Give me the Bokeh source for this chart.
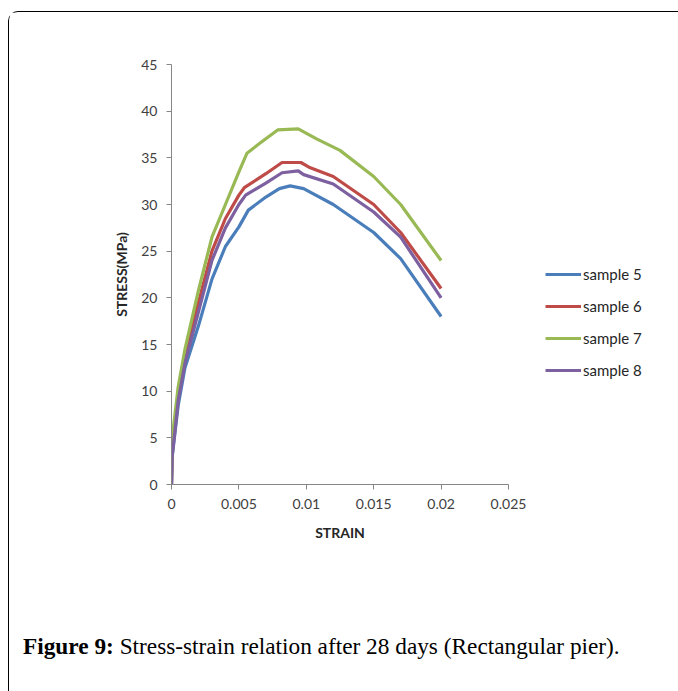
from bokeh.plotting import figure
from bokeh.layouts import column
from bokeh.models import (Range1d, FixedTicker, Legend, LegendItem, Div)
from bokeh.embed import file_html
from bokeh.resources import INLINE

# ---- data ----
series_names = ["sample 5", "sample 6", "sample 7", "sample 8"]
series_colors = ["#4A7EBB", "#BE4B48", "#98B954", "#7D60A0"]

strain_5 = [0, 0.00005, 0.0005, 0.001, 0.002, 0.003, 0.004, 0.005, 0.0057, 0.007, 0.008, 0.0088, 0.0098, 0.012, 0.015, 0.017, 0.02]
stress_5 = [0, 3, 8.5, 12.5, 17.0, 22.0, 25.5, 27.6, 29.4, 30.8, 31.7, 32.0, 31.7, 30.0, 27.0, 24.2, 18.0]

strain_6 = [0, 0.00005, 0.0005, 0.001, 0.002, 0.003, 0.004, 0.005, 0.0054, 0.007, 0.0082, 0.0096, 0.0102, 0.012, 0.015, 0.017, 0.02]
stress_6 = [0, 3.5, 9.5, 14.0, 19.5, 25.0, 28.5, 31.0, 31.8, 33.3, 34.5, 34.5, 34.0, 33.0, 30.0, 27.0, 21.0]

strain_7 = [0, 0.00005, 0.0005, 0.001, 0.002, 0.003, 0.004, 0.005, 0.0056, 0.0065, 0.0079, 0.0094, 0.0108, 0.0125, 0.015, 0.017, 0.02]
stress_7 = [0, 5.0, 10.5, 14.5, 20.8, 26.5, 30.0, 33.5, 35.5, 36.5, 38.0, 38.1, 37.0, 35.8, 33.0, 30.0, 24.0]

strain_8 = [0, 0.00005, 0.0005, 0.001, 0.002, 0.003, 0.004, 0.005, 0.0055, 0.007, 0.0082, 0.0094, 0.0098, 0.012, 0.015, 0.017, 0.02]
stress_8 = [0, 3.0, 9.0, 13.0, 18.5, 24.0, 27.5, 30.0, 31.0, 32.3, 33.4, 33.6, 33.2, 32.2, 29.2, 26.5, 20.0]

x_ticks = [0, 0.005, 0.01, 0.015, 0.02, 0.025]
x_tick_labels = ["0", "0.005", "0.01", "0.015", "0.02", "0.025"]
y_ticks = [0, 5, 10, 15, 20, 25, 30, 35, 40, 45]

x_title = "STRAIN"
y_title = "STRESS(MPa)"
caption_bold = "Figure 9:"
caption_text = "Stress-strain relation after 28 days (Rectangular pier)."

strains = [strain_5, strain_6, strain_7, strain_8]
stresses = [stress_5, stress_6, stress_7, stress_8]

FONT = "Lato"
AXIS_COLOR = "#868686"
TEXT_COLOR = "#404040"

p = figure(output_backend="svg", toolbar_location=None,
           frame_width=337, frame_height=420,
           min_border_left=162, min_border_right=169,
           min_border_top=52, min_border_bottom=70,
           x_range=Range1d(0, 0.025), y_range=Range1d(0, 45))
p.outline_line_color = None
p.xgrid.visible = False
p.ygrid.visible = False
p.background_fill_color = "white"
p.border_fill_color = "white"

for ax in (p.xaxis[0], p.yaxis[0]):
    ax.axis_line_color = AXIS_COLOR
    ax.major_tick_line_color = AXIS_COLOR
    ax.major_tick_out = 5
    ax.major_tick_in = 0
    ax.minor_tick_line_color = None
    ax.major_label_text_font = FONT
    ax.major_label_text_font_size = "14px"
    ax.major_label_text_color = TEXT_COLOR
    ax.axis_label_text_font = FONT
    ax.axis_label_text_font_size = "14px"
    ax.axis_label_text_font_style = "bold"
    ax.axis_label_text_color = "#262626"

p.xaxis[0].ticker = FixedTicker(ticks=x_ticks)
p.xaxis[0].major_label_overrides = {t: l for t, l in zip(x_ticks, x_tick_labels)}
p.xaxis[0].major_label_standoff = 9
p.xaxis[0].axis_label = x_title
p.xaxis[0].axis_label_standoff = 12

p.yaxis[0].ticker = FixedTicker(ticks=y_ticks)
p.yaxis[0].major_label_standoff = 9
p.yaxis[0].axis_label = y_title
p.yaxis[0].axis_label_standoff = 8

items = []
for name, col, xs, ys in zip(series_names, series_colors, strains, stresses):
    r = p.line(xs, ys, line_color=col, line_width=3.2, line_join="round")
    items.append(LegendItem(label=name, renderers=[r]))

legend = Legend(items=items, location=(37, 104), orientation="vertical",
                glyph_width=36, glyph_height=20, label_height=20, spacing=12,
                label_standoff=2, padding=0, margin=0,
                label_text_font=FONT, label_text_font_size="15px",
                label_text_color="#262626",
                border_line_color=None, background_fill_alpha=0)
p.add_layout(legend, "right")

caption_html = (
    "<div style=\"padding:74px 0 0 9px; font-family:'Liberation Serif', serif; "
    "font-size:23.3px; line-height:26px; white-space:nowrap; color:black;\">"
    f"<b>{caption_bold}</b> {caption_text}</div>"
)
cap = Div(text=caption_html, width=668, height=136)

layout = column(p, cap, spacing=0)
layout.margin = (11, 0, 0, 8)
layout.styles = {"border-left": "1.5px solid black",
                 "border-top": "1.5px solid black",
                 "border-top-left-radius": "10px"}

open("out.html", "w").write(file_html(layout, INLINE))
